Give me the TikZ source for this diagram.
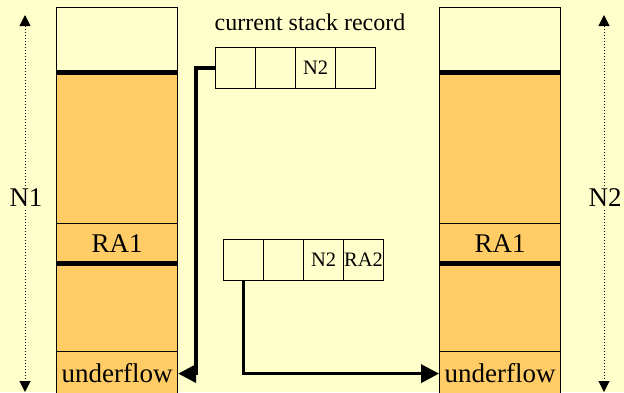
\documentclass[tikz,border=0pt]{standalone}
\usepackage{fontspec}
\setmainfont{Liberation Serif}
\usetikzlibrary{arrows.meta}
\definecolor{bg}{HTML}{FFFFCC}
\definecolor{org}{HTML}{FFCC66}
\begin{document}
\begin{tikzpicture}[x=1pt,y=-1pt,
  cell/.style={draw=black,line width=1.2pt,anchor=north west,inner sep=0pt,minimum width=121pt},
  rcell/.style={draw=black,line width=1.1pt,anchor=north west,inner sep=0pt,minimum width=40pt,minimum height=41pt,font=\fontsize{20.5}{20.5}\selectfont},
  big/.style={font=\fontsize{27}{27}\selectfont},
  thick line/.style={line width=5pt},
  conn/.style={line width=3.5pt,-{Triangle[length=18pt,width=18pt]}},
  dim/.style={dotted,line width=1pt,-{Triangle[length=11pt,width=11pt]}}]
\useasboundingbox (0,0) rectangle (624,392);
\clip (0,0) rectangle (624,392);
\fill[bg] (0,0) rectangle (624,392);
% left column
\node[cell,fill=bg,minimum height=65pt] (ltop) at (56,7) {};
\node[cell,fill=org,minimum height=151pt] (lm1) at (56,72) {};
\node[cell,fill=org,minimum height=40pt,big] (lra) at (56,223) {RA1};
\node[cell,fill=org,minimum height=88pt] (lm2) at (56,263) {};
\node[cell,fill=org,minimum height=44pt,big] (luf) at (56,351) {underflow};
\draw[thick line] (lm1.north west) -- (lm1.north east);
\draw[thick line] (lm2.north west) -- (lm2.north east);
% right column
\node[cell,fill=bg,minimum height=65pt] (rtop) at (439,7) {};
\node[cell,fill=org,minimum height=151pt] (rm1) at (439,72) {};
\node[cell,fill=org,minimum height=40pt,big] (rra) at (439,223) {RA1};
\node[cell,fill=org,minimum height=88pt] (rm2) at (439,263) {};
\node[cell,fill=org,minimum height=44pt,big] (ruf) at (439,351) {underflow};
\draw[thick line] (rm1.north west) -- (rm1.north east);
\draw[thick line] (rm2.north west) -- (rm2.north east);
% current stack record
\node[font=\fontsize{24}{24}\selectfont] (title) at (310,22) {current stack record};
\node[rcell] (a1) at (215,47) {};
\node[rcell] (a2) at (255,47) {};
\node[rcell] (a3) at (295,47) {N2};
\node[rcell] (a4) at (335,47) {};
% second record
\node[rcell] (b1) at (223,239) {};
\node[rcell] (b2) at (263,239) {};
\node[rcell] (b3) at (303,239) {N2};
\node[rcell] (b4) at (343,239) {RA2};
% connectors
\draw[conn] (a1.west) -- ++(-19,0) |- (luf.east);
\draw[conn] (b1.south) |- (ruf.west);
% dimension labels
\node[big] (n1) at (26,198) {N1};
\node[big] (n2) at (605,198) {N2};
\coordinate (n1t) at (25,15);
\coordinate (n1b) at (25,392);
\coordinate (n2t) at (604,15);
\coordinate (n2b) at (604,392);
\draw[dim] (n1.north -| n1t) -- (n1t);
\draw[dim] (n1.south -| n1b) -- (n1b);
\draw[dim] (n2.north -| n2t) -- (n2t);
\draw[dim] (n2.south -| n2b) -- (n2b);
\end{tikzpicture}
\end{document}
